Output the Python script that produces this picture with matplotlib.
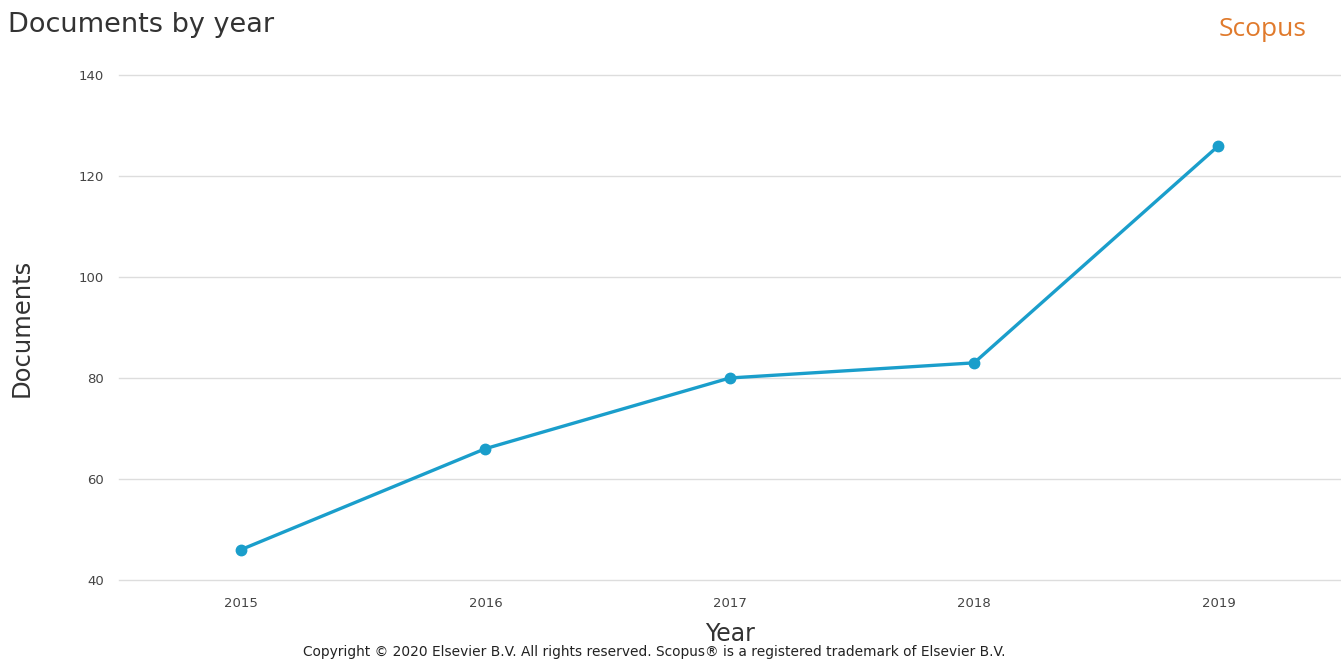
import matplotlib
matplotlib.use("Agg")
import matplotlib.pyplot as plt

# data
years = [2015, 2016, 2017, 2018, 2019]
documents = [46, 66, 80, 83, 126]
y_ticks = [40, 60, 80, 100, 120, 140]

line_color = "#1a9ecb"
text_color = "#333333"

fig = plt.figure(figsize=(13.41, 6.65), dpi=100)
ax = fig.add_axes([0.0887, 0.128, 0.911, 0.759])

ax.plot(years, documents, color=line_color, linewidth=2.4,
        marker="o", markersize=7.5, solid_capstyle="round")

ax.set_xlim(2014.5, 2019.5)
ax.set_ylim(40, 140)
ax.set_xticks(years)
ax.set_xticklabels([str(y) for y in years])
ax.set_yticks(y_ticks)
ax.yaxis.grid(True, color="#dddddd", linewidth=1)
for gl in ax.get_ygridlines():
    gl.set_clip_on(False)
ax.set_axisbelow(True)
for side in ["top", "right", "left", "bottom"]:
    ax.spines[side].set_visible(False)
ax.tick_params(axis="both", length=0, labelsize=9.5, labelcolor="#444444")
ax.tick_params(axis="x", pad=12)
ax.tick_params(axis="y", pad=11)

ax.set_xlabel("Year", fontsize=17, color=text_color, labelpad=9)
ax.set_ylabel("Documents", fontsize=17.5, color=text_color, labelpad=32)

fig.text(0.006, 0.962, "Documents by year", fontsize=19.5,
         color=text_color, va="center", ha="left")
fig.text(0.974, 0.955, "Scopus", fontsize=19, color="#e07a2c",
         va="center", ha="right", family="Open Sans")
fig.text(0.4877, 0.02, "Copyright \u00a9 2020 Elsevier B.V. All rights reserved. "
         "Scopus\u00ae is a registered trademark of Elsevier B.V.",
         fontsize=9.9, color="#222222", ha="center", va="center")

fig.savefig("out.png", dpi=100)
